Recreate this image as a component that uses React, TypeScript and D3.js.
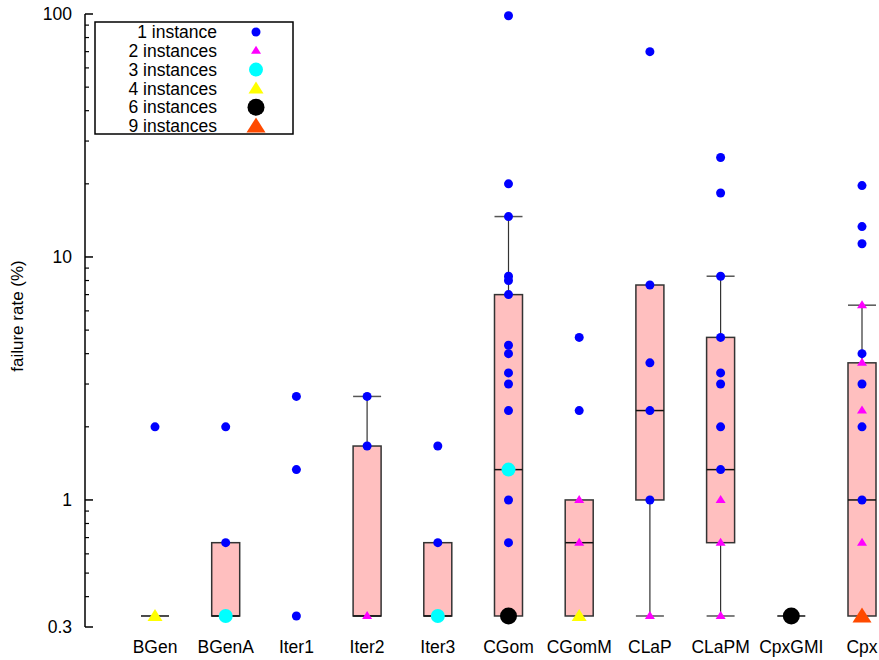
import React, { useRef, useEffect } from 'react';
import * as d3 from 'd3';

// categories on the x axis
const categories = ['BGen', 'BGenA', 'Iter1', 'Iter2', 'Iter3', 'CGom', 'CGomM', 'CLaP', 'CLaPM', 'CpxGMI', 'Cpx'];

// box statistics, null = nothing drawn
const boxQ1 = [0.333, 0.333, null, 0.333, 0.333, 0.333, 0.333, 1, 0.667, 0.333, 0.333];
const boxMedian = [0.333, 0.333, null, 0.333, 0.333, 1.333, 0.667, 2.333, 1.333, 0.333, 1];
const boxQ3 = [0.333, 0.667, null, 1.667, 0.667, 7, 1, 7.667, 4.667, 0.333, 3.667];
const whiskerLow = [null, null, null, null, null, null, null, 0.333, 0.333, null, null];
const whiskerHigh = [null, null, null, 2.667, null, 14.667, null, null, 8.333, null, 6.333];

// observed failure rates: [category, value (%), number of instances]
const observations: [string, number, number][] = [
    ['BGen', 0.333, 4], ['BGen', 2, 1],
    ['BGenA', 0.333, 3], ['BGenA', 0.667, 1], ['BGenA', 2, 1],
    ['Iter1', 0.333, 1], ['Iter1', 1.333, 1], ['Iter1', 2.667, 1],
    ['Iter2', 0.333, 2], ['Iter2', 1.667, 1], ['Iter2', 2.667, 1],
    ['Iter3', 0.333, 3], ['Iter3', 0.667, 1], ['Iter3', 1.667, 1],
    ['CGom', 0.333, 6], ['CGom', 0.667, 1], ['CGom', 1, 1], ['CGom', 1.333, 3], ['CGom', 2.333, 1],
    ['CGom', 3, 1], ['CGom', 3.333, 1], ['CGom', 4, 1], ['CGom', 4.333, 1], ['CGom', 7, 1],
    ['CGom', 8, 1], ['CGom', 8.333, 1], ['CGom', 14.667, 1], ['CGom', 20, 1], ['CGom', 98.333, 1],
    ['CGomM', 0.333, 4], ['CGomM', 0.667, 2], ['CGomM', 1, 2], ['CGomM', 2.333, 1], ['CGomM', 4.667, 1],
    ['CLaP', 0.333, 2], ['CLaP', 1, 1], ['CLaP', 2.333, 1], ['CLaP', 3.667, 1], ['CLaP', 7.667, 1], ['CLaP', 70, 1],
    ['CLaPM', 0.333, 2], ['CLaPM', 0.667, 2], ['CLaPM', 1, 2], ['CLaPM', 1.333, 1], ['CLaPM', 2, 1],
    ['CLaPM', 3, 1], ['CLaPM', 3.333, 1], ['CLaPM', 4.667, 1], ['CLaPM', 8.333, 1], ['CLaPM', 18.333, 1],
    ['CLaPM', 25.667, 1],
    ['CpxGMI', 0.333, 6],
    ['Cpx', 0.333, 9], ['Cpx', 0.667, 2], ['Cpx', 1, 1], ['Cpx', 2, 1], ['Cpx', 2.333, 2], ['Cpx', 3, 1],
    ['Cpx', 3.667, 2], ['Cpx', 4, 1], ['Cpx', 6.333, 2], ['Cpx', 11.333, 1], ['Cpx', 13.333, 1], ['Cpx', 19.667, 1],
];

// legend entries
const legendCounts = [1, 2, 3, 4, 6, 9];
const legendLabels = ['1 instance', '2 instances', '3 instances', '4 instances', '6 instances', '9 instances'];

const majorTicks = [0.3, 1, 10, 100];
const minorTicks = [0.4, 0.5, 0.6, 0.7, 0.8, 0.9, 2, 3, 4, 5, 6, 7, 8, 9, 20, 30, 40, 50, 60, 70, 80, 90];

// marker look per instance count
const markerStyle: { [k: number]: { shape: string, color: string, w: number, h: number } } = {
    1: { shape: 'circle', color: '#0000ff', w: 9, h: 9 },
    2: { shape: 'triangle', color: '#ff00ff', w: 10, h: 8 },
    3: { shape: 'circle', color: '#00ffff', w: 14, h: 14 },
    4: { shape: 'triangle', color: '#ffff00', w: 15, h: 12 },
    6: { shape: 'circle', color: '#000000', w: 17, h: 17 },
    9: { shape: 'triangle', color: '#ff4a00', w: 19, h: 15 },
};

const FONT = '"Liberation Sans", Arial, Helvetica, sans-serif';

const Chart = ({ width, height }: { width: number, height: number }) => {
    const svg = useRef<SVGSVGElement>(null);

    useEffect(() => {
        const root = d3.select(svg.current);
        root.selectAll('*').remove();

        const axisX = 85;
        const boxHalf = 14;

        const xScale = d3.scalePoint<string>()
            .domain(categories)
            .range([155, 862]);

        const yScale = d3.scaleLog()
            .domain([0.3, 100])
            .range([627, 14]);

        const drawMarker = (g: any, cx: number, cy: number, count: number) => {
            const m = markerStyle[count];
            if (m.shape === 'circle') {
                g.append('circle')
                    .attr('cx', cx).attr('cy', cy).attr('r', m.w / 2)
                    .attr('fill', m.color);
            } else {
                const top = cy - m.h / 2 - 1;
                g.append('path')
                    .attr('d', `M${cx},${top} L${cx + m.w / 2},${top + m.h} L${cx - m.w / 2},${top + m.h} Z`)
                    .attr('fill', m.color);
            }
        };

        // boxes and whiskers
        const boxes = root.append('g');
        categories.forEach((c, i) => {
            const cx = xScale(c)!;
            if (boxQ1[i] === null) return;
            const wl = whiskerLow[i];
            const wh = whiskerHigh[i];
            [wl, wh].forEach((w, k) => {
                if (w === null) return;
                const edge = k === 0 ? boxQ1[i]! : boxQ3[i]!;
                boxes.append('line')
                    .attr('x1', cx).attr('x2', cx)
                    .attr('y1', yScale(w)).attr('y2', yScale(edge))
                    .attr('stroke', '#333').attr('stroke-width', 1.2);
                boxes.append('line')
                    .attr('x1', cx - boxHalf).attr('x2', cx + boxHalf)
                    .attr('y1', yScale(w)).attr('y2', yScale(w))
                    .attr('stroke', '#555').attr('stroke-width', 1.5);
            });
            const yTop = yScale(boxQ3[i]!);
            const yBot = yScale(boxQ1[i]!);
            boxes.append('rect')
                .attr('x', cx - boxHalf).attr('y', yTop)
                .attr('width', boxHalf * 2).attr('height', yBot - yTop)
                .attr('fill', '#ffbfbf')
                .attr('stroke', '#333').attr('stroke-width', 1.5);
            boxes.append('line')
                .attr('x1', cx - boxHalf).attr('x2', cx + boxHalf)
                .attr('y1', yScale(boxMedian[i]!)).attr('y2', yScale(boxMedian[i]!))
                .attr('stroke', '#111').attr('stroke-width', 1.5);
        });

        // instance markers
        const marks = root.append('g');
        observations.forEach(([c, v, n]) => drawMarker(marks, xScale(c)!, yScale(v), n));

        // y axis
        const axis = root.append('g').attr('stroke', '#000');
        axis.append('line')
            .attr('x1', axisX).attr('x2', axisX)
            .attr('y1', yScale(100)).attr('y2', yScale(0.3))
            .attr('stroke-width', 1.5);
        majorTicks.forEach(t => {
            axis.append('line')
                .attr('x1', axisX).attr('x2', axisX + 8)
                .attr('y1', yScale(t)).attr('y2', yScale(t))
                .attr('stroke-width', 1.5);
        });
        minorTicks.forEach(t => {
            axis.append('line')
                .attr('x1', axisX).attr('x2', axisX + 4)
                .attr('y1', yScale(t)).attr('y2', yScale(t))
                .attr('stroke-width', 1.2);
        });
        root.append('g').selectAll('text')
            .data(majorTicks)
            .join('text')
            .attr('x', 72)
            .attr('y', d => yScale(d))
            .attr('dy', '0.35em')
            .attr('text-anchor', 'end')
            .attr('font-family', FONT)
            .attr('font-size', 17.5)
            .text(d => String(d));

        root.append('text')
            .attr('transform', 'translate(23, 316) rotate(-90)')
            .attr('text-anchor', 'middle')
            .attr('font-family', FONT)
            .attr('font-size', 17)
            .text('failure rate (%)');

        // category labels
        root.append('g').selectAll('text')
            .data(categories)
            .join('text')
            .attr('x', d => xScale(d)!)
            .attr('y', 653)
            .attr('text-anchor', 'middle')
            .attr('font-family', FONT)
            .attr('font-size', 17.5)
            .text(d => d);

        // legend
        const legend = root.append('g');
        legend.append('rect')
            .attr('x', 95).attr('y', 22)
            .attr('width', 198).attr('height', 112)
            .attr('fill', '#fff').attr('stroke', '#000').attr('stroke-width', 1.5);
        legendCounts.forEach((n, i) => {
            const cy = 32 + i * 18.8;
            legend.append('text')
                .attr('x', 217).attr('y', cy)
                .attr('dy', '0.35em')
                .attr('text-anchor', 'end')
                .attr('font-family', FONT)
                .attr('font-size', 17.5)
                .text(legendLabels[i]);
            drawMarker(legend, 256, cy, n);
        });
    }, []);

    return (
        <svg
            width={width}
            height={height}
            ref={svg}
            style={{ position: 'absolute', left: 0, top: 0, background: '#fff' }}
        >
        </svg>
    );
};

export default function App() {
    return <Chart width={879} height={660} />;
}
